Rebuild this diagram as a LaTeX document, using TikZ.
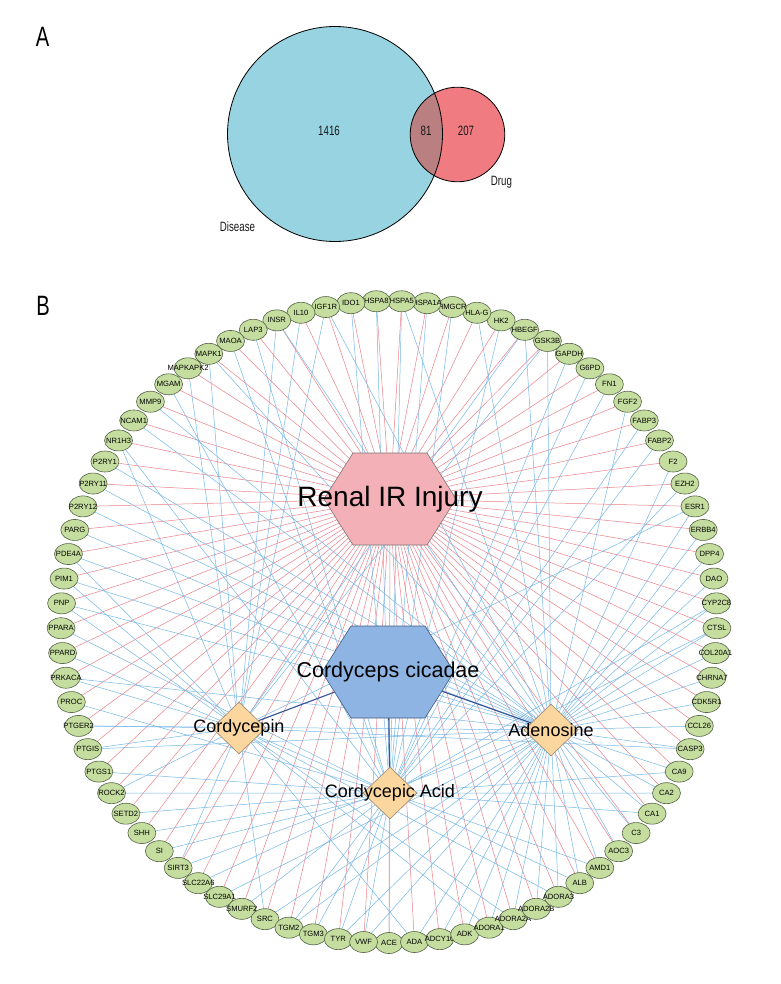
\documentclass[tikz,border=0pt]{standalone}
\usepackage{fontspec}
\usepackage{graphicx}
\setmainfont{Liberation Sans}
\usetikzlibrary{shapes.geometric}
\pgfdeclarelayer{bg}
\pgfdeclarelayer{edges}
\pgfsetlayers{bg,edges,main}
\definecolor{disfill}{RGB}{151,211,225}
\definecolor{drugfill}{RGB}{240,124,130}
\definecolor{ovfill}{RGB}{186,127,128}
\definecolor{redE}{RGB}{236,128,138}
\definecolor{blueE}{RGB}{118,184,230}
\definecolor{darkE}{RGB}{52,82,150}
\definecolor{genefill}{RGB}{197,222,160}
\definecolor{geneline}{RGB}{85,100,70}
\definecolor{pinkfill}{RGB}{243,176,182}
\definecolor{hexblue}{RGB}{141,180,226}
\definecolor{diafill}{RGB}{251,214,158}
\newcommand{\narrowtxt}[1]{\scalebox{0.72}[1]{#1}}
\tikzset{
  gene/.style={ellipse, draw=geneline, fill=genefill, line width=0.6pt,
    minimum width=28, minimum height=21, inner sep=0pt,
    font=\fontsize{7.6}{8}\selectfont},
  rededge/.style={draw=redE, line width=0.5pt},
  blueedge/.style={draw=blueE, line width=0.5pt},
  darkedge/.style={draw=darkE, line width=1.1pt},
  diabox/.style={diamond, draw={rgb,255:red,150;green,140;blue,120}, line width=0.6pt,
    fill=diafill, minimum width=54, minimum height=52, inner sep=0pt,
    font=\fontsize{18}{20}\selectfont},
  hexpink/.style={fill=pinkfill, draw={rgb,255:red,120;green,120;blue,120}, line width=0.6pt},
  hexcc/.style={fill=hexblue, draw={rgb,255:red,70;green,90;blue,130}, line width=0.6pt},
  venntxt/.style={font=\fontsize{13.5}{15}\selectfont, text={rgb,255:red,25;green,25;blue,25}, inner sep=0pt},
  paneltxt/.style={font=\fontsize{28}{30}\selectfont, inner sep=0pt}
}
\begin{document}
\begin{tikzpicture}[x=1pt,y=-1pt]
\useasboundingbox (0,0) rectangle (780,984);
\begin{pgfonlayer}{bg}
\fill[white] (0,0) rectangle (780,984);
\end{pgfonlayer}

% ---------- Panel A ----------
\node[paneltxt] (labA) at (42.5,37) {\narrowtxt{A}};
\fill[disfill] (335,134) circle (107.5);
\fill[drugfill] (457.5,134.5) circle (47.3);
\begin{scope}
  \clip (335,134) circle (107.5);
  \fill[ovfill] (457.5,134.5) circle (47.3);
\end{scope}
\draw[line width=0.8pt] (335,134) circle (107.5);
\draw[line width=0.8pt] (457.5,134.5) circle (47.3);
\node[venntxt] (n1416) at (329,131) {\narrowtxt{1416}};
\node[venntxt] (n81) at (426,131) {\narrowtxt{81}};
\node[venntxt] (n207) at (466,131) {\narrowtxt{207}};
\node[venntxt] (ndrug) at (501.5,182) {\narrowtxt{Drug}};
\node[venntxt] (ndis) at (237.5,227) {\narrowtxt{Disease}};

% ---------- Panel B ----------
\node[paneltxt] (labB) at (43,306) {\narrowtxt{B}};

\foreach \n [count=\i] in {ACE,ADA,ADCY10,ADK,ADORA1,ADORA2A,ADORA2B,ADORA3,ALB,AMD1,AOC3,C3,CA1,CA2,CA9,CASP3,CCL26,CDK5R1,CHRNA7,COL20A1,CTSL,CYP2C8,DAO,DPP4,ERBB4,ESR1,EZH2,F2,FABP2,FABP3,FGF2,FN1,G6PD,GAPDH,GSK3B,HBEGF,HK2,HLA-G,HMGCR,HSPA1A,HSPA5,HSPA8,IDO1,IGF1R,IL10,INSR,LAP3,MAOA,MAPK1,MAPKAPK2,MGAM,MMP9,NCAM1,NR1H3,P2RY1,P2RY11,P2RY12,PARG,PDE4A,PIM1,PNP,PPARA,PPARD,PRKACA,PROC,PTGER2,PTGIS,PTGS1,ROCK2,SETD2,SHH,SI,SIRT3,SLC22A6,SLC29A1,SMURF2,SRC,TGM2,TGM3,TYR,VWF}{
  \pgfmathsetmacro\ang{-90+(\i-1)*(360/81)}
  \node[gene] (g\i) at ({389+328*cos(\ang)},{622-321*sin(\ang)}) {\makebox[0pt]{\n}};
}

% hexagons
\draw[hexpink, shift={(390,499)}] (-66,0) -- (-37,-46) -- (37,-46) -- (66,0) -- (37,46) -- (-37,46) -- cycle;
\node[font=\fontsize{28}{30}\selectfont, inner sep=0pt] (renal) at (390,499) {Renal IR Injury};
\draw[hexcc, shift={(388,672)}] (-66,0) -- (-37,-46) -- (37,-46) -- (66,0) -- (37,46) -- (-37,46) -- cycle;
\node[font=\fontsize{21.5}{24}\selectfont, inner sep=0pt] (cc) at (388,672) {Cordyceps cicadae};

% compounds
\node[diabox] (cpin) at (239,728) {\makebox[0pt]{Cordycepin}};
\node[diabox] (aden) at (551,730) {\makebox[0pt]{Adenosine}};
\node[diabox] (cacid) at (390,793) {\makebox[0pt]{Cordycepic Acid}};

\begin{pgfonlayer}{edges}
  \foreach \i in {1,...,81}{ \draw[rededge] (renal.center) -- (g\i.center); }
  \foreach \i in {2,3,4,5,6,7,8,9,10,11,12,13,14,15,16,17,18,19,20,21,22,23,24,25,26,28,31,35,36,38,41,44,46,49,52,53,55,56,57,58,59,60,61,64,66,67,73,75,77,78,80,81}{
    \draw[blueedge] (aden.center) -- (g\i.center); }
  \foreach \i in {1,9,10,13,14,15,21,22,27,29,30,32,33,34,37,39,40,41,42,43,47,48,51,54,62,63,65,68,69,70,71,72,74,76,78,79,80,81}{
    \draw[blueedge] (cacid.center) -- (g\i.center); }
  \foreach \i in {2,5,6,8,16,26,35,36,44,45,46,49,50,54,59,60,61,64,66,67,69,73,77}{
    \draw[blueedge] (cpin.center) -- (g\i.center); }
  \draw[darkedge] (cc.center) -- (cpin.center);
  \draw[darkedge] (cc.center) -- (aden.center);
  \draw[darkedge] (cc.center) -- (cacid.center);
\end{pgfonlayer}
\end{tikzpicture}
\end{document}
